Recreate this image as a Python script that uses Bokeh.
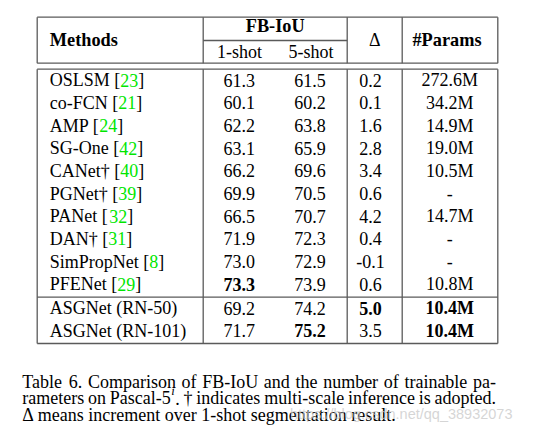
from bokeh.plotting import figure
from bokeh.models import Range1d
from bokeh.embed import file_html
from bokeh.resources import INLINE
from bokeh.core.properties import value

# ---------------- data ----------------
methods = ["OSLSM", "co-FCN", "AMP", "SG-One", "CANet\u2020", "PGNet\u2020", "PANet",
           "DAN\u2020", "SimPropNet", "PFENet", "ASGNet (RN-50)", "ASGNet (RN-101)"]
refs = ["23", "21", "24", "42", "40", "39", "32", "31", "8", "29", "", ""]
one_shot = [61.3, 60.1, 62.2, 63.1, 66.2, 69.9, 66.5, 71.9, 73.0, 73.3, 69.2, 71.7]
five_shot = [61.5, 60.2, 63.8, 65.9, 69.6, 70.5, 70.7, 72.3, 72.9, 73.9, 74.2, 75.2]
delta = [0.2, 0.1, 1.6, 2.8, 3.4, 0.6, 4.2, 0.4, -0.1, 0.6, 5.0, 3.5]
params_m = [272.6, 34.2, 14.9, 19.0, 10.5, None, 14.7, None, None, 10.8, 10.4, 10.4]
header_main = ["Methods", "FB-IoU", "\u0394", "#Params"]
header_sub = ["1-shot", "5-shot"]
caption_lines = [
    "Table 6. Comparison of FB-IoU and the number of trainable pa-",
    "rameters on Pascal-5^i. \u2020 indicates multi-scale inference is adopted.",
    "\u0394 means increment over 1-shot segmentation result.",
]
watermark = "https://blog.csdn.net/qq_38932073"

# ---------------- style / layout ----------------
FONT = value("serif")
FS = 18.0
GREEN = "#00e600"
LINE = "#5a5a5a"

W = {' ': 250, '!': 333, '[': 333, ']': 333, '(': 333, ')': 333, '-': 333, '.': 250,
     ',': 250, '\u2020': 500, '\u0394': 612, '#': 500}
for c in "0123456789":
    W[c] = 500
W.update(dict(zip("ABCDEFGHIJKLMNOPQRSTUVWXYZ",
                  [722, 667, 667, 722, 611, 556, 722, 722, 333, 389, 722, 611, 889,
                   722, 722, 556, 722, 667, 556, 611, 722, 722, 944, 722, 722, 611])))
W.update(dict(zip("abcdefghijklmnopqrstuvwxyz",
                  [444, 500, 444, 500, 444, 333, 500, 500, 278, 278, 500, 278, 778,
                   500, 500, 500, 500, 333, 389, 278, 500, 500, 722, 500, 500, 444])))


def tw(s, size=FS):
    return sum(W.get(c, 500) for c in s) / 1000.0 * size


p = figure(width=537, height=435, x_range=Range1d(0, 537), y_range=Range1d(435, 0),
           output_backend="svg", toolbar_location=None, min_border=0,
           x_axis_location=None, y_axis_location=None)
p.grid.visible = False
p.outline_line_color = None
p.background_fill_color = "white"
p.border_fill_color = "white"

# table rules
XL, XM, XD, XP, XR = 36.7, 202.7, 346.7, 401.7, 497.3
Y_TOP, Y_MID, Y_HB, Y_BT, Y_SEP, Y_BOT = 16.7, 40.0, 62.7, 68.7, 296.7, 343.0
hx0 = [XL, XM, XL, XL, XL, XL]
hx1 = [XR, XD, XR, XR, XR, XR]
hy = [Y_TOP, Y_MID, Y_HB, Y_BT, Y_SEP, Y_BOT]
p.segment(x0=hx0, y0=hy, x1=hx1, y1=hy, line_color=LINE, line_width=1.3)
vx = [XL, XM, XD, XP, XR]
p.segment(x0=vx, y0=[Y_TOP] * 5, x1=vx, y1=[Y_HB] * 5, line_color=LINE, line_width=1.3)
p.segment(x0=vx, y0=[Y_BT] * 5, x1=vx, y1=[Y_BOT] * 5, line_color=LINE, line_width=1.3)

# header
p.text(x=[49.3], y=[39.5], text=[header_main[0]], text_font=FONT, text_font_size=value("18.3px"),
       text_font_style="bold", text_baseline="middle", text_align="left")
p.text(x=[274.7, 446.5], y=[25.5, 39.5], text=[header_main[1], header_main[3]], text_font=FONT,
       text_font_size=value("18.3px"), text_font_style="bold", text_baseline="middle",
       text_align="center")
p.text(x=[374.2], y=[39.5], text=[header_main[2]], text_font=FONT, text_font_size=value("18px"),
       text_baseline="middle", text_align="center")
p.text(x=[239.0, 310.5], y=[51.5, 51.5], text=header_sub, text_font=FONT,
       text_font_size=value("18px"), text_baseline="middle", text_align="center")

# rows
n = len(methods)
row_y = [79.8 + 22.67 * i + (1.0 if i >= 10 else 0.0) for i in range(n)]

# method names with green citations
bx, by, bt, gx, gy, gt = [], [], [], [], [], []
X0 = 49.3
for name, ref, y in zip(methods, refs, row_y):
    if ref:
        pre = name + " ["
        bx += [X0, X0 + tw(pre) + tw(ref)]
        by += [y, y]
        bt += [pre, "]"]
        gx.append(X0 + tw(pre))
        gy.append(y)
        gt.append(ref)
    else:
        bx.append(X0)
        by.append(y)
        bt.append(name)
p.text(x=bx, y=by, text=bt, text_font=FONT, text_font_size=value("18px"),
       text_baseline="middle", text_align="left", text_color="black")
p.text(x=gx, y=gy, text=gt, text_font=FONT, text_font_size=value("18px"),
       text_baseline="middle", text_align="left", text_color=GREEN)

# numeric columns (best values in bold)
best1 = max(one_shot)
best5 = max(five_shot)
bestd = max(delta)
bestp = min(v for v in params_m if v is not None)
cols = [
    (238.8, [f"{v:.1f}" for v in one_shot], [v == best1 for v in one_shot]),
    (309.5, [f"{v:.1f}" for v in five_shot], [v == best5 for v in five_shot]),
    (370.0, [f"{v:.1f}" for v in delta], [v == bestd for v in delta]),
    (449.3, [("-" if v is None else f"{v:.1f}M") for v in params_m],
     [(v is not None and v == bestp) for v in params_m]),
]
nx, ny, nt, kx, ky, kt = [], [], [], [], [], []
for cx, texts, bolds in cols:
    for t, b, y in zip(texts, bolds, row_y):
        if b:
            kx.append(cx); ky.append(y); kt.append(t)
        else:
            nx.append(cx); ny.append(y); nt.append(t)
p.text(x=nx, y=ny, text=nt, text_font=FONT, text_font_size=value("18px"),
       text_baseline="middle", text_align="center")
p.text(x=kx, y=ky, text=kt, text_font=FONT, text_font_size=value("18px"),
       text_font_style="bold", text_baseline="middle", text_align="center")

# caption (justified)
CL, CR = 21.7, 495.5
base_y = [381.0, 397.5, 414.0]
justify = [True, True, False]
SUP = 0.7
cx_, cy_, ct_, sx_, sy_, st_ = [], [], [], [], [], []
for line, yb, jus in zip(caption_lines, base_y, justify):
    words = line.split(" ")
    segs_all, widths = [], []
    for w in words:
        segs = []
        if "^" in w:
            a, rest = w.split("^", 1)
            segs.append((a, False))
            segs.append((rest[0], True))
            if rest[1:]:
                segs.append((rest[1:], False))
        else:
            segs.append((w, False))
        wid = sum((tw(s, FS * SUP) + 1.0) if sup else tw(s) for s, sup in segs)
        segs_all.append(segs)
        widths.append(wid)
    if jus:
        gap = (CR - CL - sum(widths)) / (len(words) - 1)
    else:
        gap = tw(" ")
    x = CL
    for segs, wid in zip(segs_all, widths):
        xx = x
        for s, sup in segs:
            if sup:
                sx_.append(xx + 0.5); sy_.append(yb - 7.0); st_.append(s)
                xx += tw(s, FS * SUP) + 1.0
            else:
                cx_.append(xx); cy_.append(yb); ct_.append(s)
                xx += tw(s)
        x += wid + gap
p.text(x=cx_, y=cy_, text=ct_, text_font=FONT, text_font_size=value("18px"),
       text_baseline="alphabetic", text_align="left", text_color="black")
p.text(x=sx_, y=sy_, text=st_, text_font=FONT, text_font_size=value("12.6px"),
       text_font_style="italic", text_baseline="alphabetic", text_align="left",
       text_color="black")

# watermark
p.text(x=[512], y=[413.5], text=[watermark], text_font=value("sans-serif"),
       text_font_size=value("14.5px"), text_baseline="alphabetic", text_align="right",
       text_color="#c8c8c8", text_alpha=0.75)

open("out.html", "w").write(file_html(p, INLINE))
